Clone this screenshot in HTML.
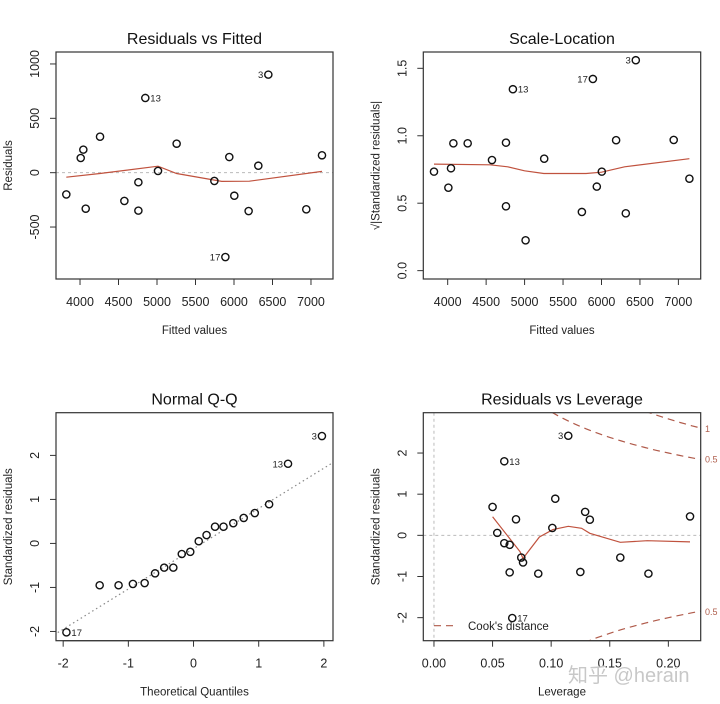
<!DOCTYPE html>
<html><head><meta charset="utf-8"><style>
body{margin:0;background:#fff;}
svg{display:block;font-family:"Liberation Sans","Noto Sans CJK SC",sans-serif;}
</style></head><body>
<svg id="c" width="720" height="704" viewBox="0 0 720 704"></svg>
<script>
// ---- data ----
const fitted = [3822,4009,4043,4074,4260,4576,4758,4758,4848,5013,5255,5745,5888,5939,6004,6190,6316,6446,6939,7143];
const resid = [-200,135,212,-331,331,-260,-88,-349,687,16,267,-76,-776,144,-212,-353,64,902,-337,160];
const sqrtStd = [0.734,0.615,0.759,0.944,0.944,0.82,0.949,0.477,1.345,0.225,0.83,0.435,1.421,0.623,0.734,0.967,0.425,1.56,0.969,0.682];
const rvfLoessX = [3822,4260,5013,5255,5840,6200,7143];
const rvfLoessY = [-42,-8,60,-8,-80,-78,12];
const slLoessX = [3822,4550,4780,5000,5250,5800,6000,6300,7143];
const slLoessY = [0.79,0.785,0.77,0.74,0.72,0.72,0.73,0.77,0.83];
const qqTheo = [-1.95,-1.44,-1.15,-0.93,-0.75,-0.59,-0.45,-0.31,-0.18,-0.05,0.08,0.20,0.33,0.46,0.61,0.77,0.94,1.16,1.45,1.97];
const qqStd = [-2.02,-0.95,-0.95,-0.92,-0.90,-0.68,-0.55,-0.55,-0.24,-0.19,0.05,0.19,0.38,0.38,0.46,0.58,0.69,0.89,1.81,2.44];
const lev = [0.050,0.054,0.060,0.0646,0.060,0.0646,0.070,0.0745,0.076,0.0668,0.089,0.101,0.1035,0.1146,0.1249,0.129,0.133,0.159,0.183,0.2185];
const levStd = [0.69,0.06,-0.19,-0.23,1.80,-0.90,0.39,-0.54,-0.66,-2.01,-0.93,0.18,0.89,2.42,-0.89,0.57,0.38,-0.54,-0.93,0.46];
const levLoessX = [0.05,0.0735,0.076,0.09,0.1015,0.1146,0.126,0.133,0.159,0.182,0.2185];
const levLoessY = [0.45,-0.40,-0.56,-0.04,0.14,0.22,0.17,0.05,-0.17,-0.13,-0.16];
const rvfTicksX=[4000,4500,5000,5500,6000,6500,7000], rvfTicksY=[-500,0,500,1000];
const slTicksY=[0.0,0.5,1.0,1.5];
const qqTicks=[-2,-1,0,1,2];
const levTicksX=[0.00,0.05,0.10,0.15,0.20], levTicksY=[-2,-1,0,1,2];

const svg=document.getElementById('c');
const NS='http://www.w3.org/2000/svg';
function el(tag,attrs,parent){const e=document.createElementNS(NS,tag);for(const k in attrs)e.setAttribute(k,attrs[k]);(parent||svg).appendChild(e);return e;}
function txt(s,attrs,parent){const e=el('text',attrs,parent);e.textContent=s;return e;}

function panel(o){
  const g=el('g',{});
  
  
  const X=v=>o.x0+(v-o.xmin)/(o.xmax-o.xmin)*(o.x1-o.x0);
  const Y=v=>o.y1-(v-o.ymin)/(o.ymax-o.ymin)*(o.y1-o.y0);
  const cx=(o.x0+o.x1)/2, cy=(o.y0+o.y1)/2;
  const t=txt(o.title,{x:cx,y:o.y0-8,'text-anchor':'middle','font-size':16,fill:'#111'},g);
  
  o.xt.forEach(v=>{el('line',{x1:X(v),x2:X(v),y1:o.y1,y2:o.y1+6,stroke:'#333'},g);
    const l=txt(o.xfmt?o.xfmt(v):String(v),{x:X(v),y:o.y1+27,'text-anchor':'middle','font-size':12.5,fill:'#222'},g);
    });
  el('line',{x1:X(o.xt[0]),x2:X(o.xt[o.xt.length-1]),y1:o.y1,y2:o.y1,stroke:'#333'},g);
  o.yt.forEach(v=>{el('line',{x1:o.x0,x2:o.x0-6,y1:Y(v),y2:Y(v),stroke:'#333'},g);
    const l=txt(o.yfmt?o.yfmt(v):String(v),{x:o.x0-17,y:Y(v),'text-anchor':'middle','font-size':12.5,fill:'#222',transform:`rotate(-90 ${o.x0-17} ${Y(v)})`},g);
    });
  const xl=txt(o.xlab,{x:cx,y:o.y1+55,'text-anchor':'middle','font-size':11.5,fill:'#222'},g);
  
  const yx=o.x0-44;
  const yl=txt(o.ylab,{x:yx,y:cy,'text-anchor':'middle','font-size':11.5,fill:'#222',transform:`rotate(-90 ${yx} ${cy})`},g);
  
  const clip='clip'+o.name;
  const cp=el('clipPath',{id:clip},g);el('rect',{x:o.x0,y:o.y0,width:o.x1-o.x0,height:o.y1-o.y0},cp);
  const inner=el('g',{'clip-path':`url(#${clip})`},g);
  return {g,inner,X,Y};
}
function box(p,o){const r=el('rect',{x:o.x0,y:o.y0,width:o.x1-o.x0,height:o.y1-o.y0,fill:'none',stroke:'#333','stroke-width':1.2},p.g);}
function points(p,xs,ys,name){xs.forEach((x,i)=>{const c=el('circle',{cx:p.X(x),cy:p.Y(ys[i]),r:3.6,fill:'none',stroke:'#111','stroke-width':1.4},p.inner);
  });}
function line(p,xs,ys,attrs,name){const d=xs.map((x,i)=>(i?'L':'M')+p.X(x).toFixed(1)+','+p.Y(ys[i]).toFixed(1)).join('');
  const l=el('path',Object.assign({d,fill:'none'},attrs),p.inner);}
function labelPt(p,xs,ys,i,s,side){const x=p.X(xs[i]),y=p.Y(ys[i]);
  const l=txt(s,{x:side>0?x+5:x-5,y:y+3.5,'text-anchor':side>0?'start':'end','font-size':9.5,fill:'#222'},p.g);
  }

// Panel 1
let o={name:'residuals-vs-fitted',x0:56,x1:333,y0:52,y1:279,xmin:3688,xmax:7286,ymin:-978,ymax:1110,xt:rvfTicksX,yt:rvfTicksY,title:'Residuals vs Fitted',xlab:'Fitted values',ylab:'Residuals'};
let p=panel(o);
el('line',{x1:o.x0,x2:o.x1,y1:p.Y(0),y2:p.Y(0),stroke:'#bbb','stroke-dasharray':'3,3'},p.inner);
line(p,rvfLoessX,rvfLoessY,{stroke:'#c0523e','stroke-width':1.2},'loess-line');
points(p,fitted,resid,'residual-point');
labelPt(p,fitted,resid,8,'13',1);labelPt(p,fitted,resid,12,'17',-1);labelPt(p,fitted,resid,17,'3',-1);
box(p,o);

// Panel 2
o={name:'scale-location',x0:423.3,x1:700.7,y0:52,y1:279,xmin:3683,xmax:7290,ymin:-0.062,ymax:1.621,xt:rvfTicksX,yt:slTicksY,yfmt:v=>v.toFixed(1),title:'Scale-Location',xlab:'Fitted values',ylab:'√|Standardized residuals|'};
p=panel(o);
line(p,slLoessX,slLoessY,{stroke:'#c0523e','stroke-width':1.2},'loess-line');
points(p,fitted,sqrtStd,'scale-point');
labelPt(p,fitted,sqrtStd,8,'13',1);labelPt(p,fitted,sqrtStd,12,'17',-1);labelPt(p,fitted,sqrtStd,17,'3',-1);
box(p,o);

// Panel 3
o={name:'normal-qq',x0:56,x1:333,y0:412.7,y1:640.7,xmin:-2.11,xmax:2.14,ymin:-2.21,ymax:2.97,xt:qqTicks,yt:qqTicks,title:'Normal Q-Q',xlab:'Theoretical Quantiles',ylab:'Standardized residuals'};
p=panel(o);
line(p,[-2.2,2.2],[-0.12-0.915*2.2,-0.12+0.915*2.2],{stroke:'#888','stroke-dasharray':'1.5,3','stroke-width':1.2},'qq-reference-line');
points(p,qqTheo,qqStd,'qq-point');
labelPt(p,qqTheo,qqStd,0,'17',1);labelPt(p,qqTheo,qqStd,18,'13',-1);labelPt(p,qqTheo,qqStd,19,'3',-1);
box(p,o);

// Panel 4
o={name:'residuals-vs-leverage',x0:423.3,x1:700.7,y0:412.7,y1:640.7,xmin:-0.0091,xmax:0.2276,ymin:-2.56,ymax:2.98,xt:levTicksX,yt:levTicksY,xfmt:v=>v.toFixed(2),title:'Residuals vs Leverage',xlab:'Leverage',ylab:'Standardized residuals'};
p=panel(o);
el('line',{x1:o.x0,x2:o.x1,y1:p.Y(0),y2:p.Y(0),stroke:'#bbb','stroke-dasharray':'3,3'},p.inner);
el('line',{x1:p.X(0),x2:p.X(0),y1:o.y0,y2:o.y1,stroke:'#bbb','stroke-dasharray':'3,3'},p.inner);
[[0.5,1],[0.5,-1],[1,1]].forEach(([D,s])=>{const hs=[],rs=[];for(let h=0.04;h<=0.24;h+=0.005){hs.push(h);rs.push(s*Math.sqrt(D*2*(1-h)/h));}
  line(p,hs,rs,{stroke:'#b05a4a','stroke-dasharray':'7,5','stroke-width':1.2},'cooks-distance-contour');});
line(p,levLoessX,levLoessY,{stroke:'#c0523e','stroke-width':1.2},'loess-line');
points(p,lev,levStd,'leverage-point');
labelPt(p,lev,levStd,4,'13',1);labelPt(p,lev,levStd,9,'17',1);labelPt(p,lev,levStd,13,'3',-1);
[['1',2.6],['0.5',1.85],['0.5',-1.85]].forEach(([s,v])=>{const l=txt(s,{x:705,y:p.Y(v)+3.5,'font-size':9,fill:'#b0604f'},p.g);});
el('line',{x1:434,x2:455,y1:625.7,y2:625.7,stroke:'#b05a4a','stroke-dasharray':'7,5','stroke-width':1.2},p.g);
const lg=txt("Cook's distance",{x:468,y:630,'font-size':11.5,fill:'#222'},p.g);

box(p,o);

const wm=txt('知乎 @herain',{x:568,y:682,'font-size':20,fill:'#c8c8c8'});

</script>
</body></html>
